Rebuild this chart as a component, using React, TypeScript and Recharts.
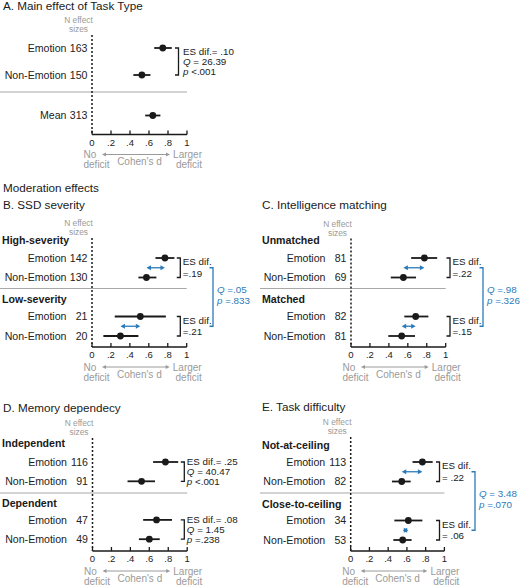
import React from "react";
import { ErrorBar, ReferenceLine, Scatter, ScatterChart, XAxis, YAxis } from "recharts";

/**
 * Forest plots of emotion vs non-emotion task deficits (Cohen's d).
 * Panel A = main effect, B–E = moderators. One ScatterChart per panel;
 * labels, brackets and the d-axis are drawn inside the chart via custom shapes.
 */

const FONT = '"Liberation Sans", Arial, Helvetica, sans-serif';
const INK = "#1a1a1a";
const TEXT = "#222222";
const GREY = "#9a9a9a";
const RULE = "#a8a8a8";
const BLUE = "#2b7bbb";
const PANEL_W = 260;

// ---- data ----
const AXIS_TICKS = [0, 0.2, 0.4, 0.6, 0.8, 1];
const TICK_LABELS = ["0", ".2", ".4", ".6", ".8", "1"];
const TASK_LABELS = ["Emotion", "Non-Emotion"];

// A. Main effect of Task Type
const A_LABELS = ["Emotion", "Non-Emotion", "Mean"];
const A_N = [163, 150, 313];
const A_EST = [0.745, 0.525, 0.64];
const A_LO = [0.655, 0.435, 0.56];
const A_HI = [0.84, 0.615, 0.72];
const A_STATS = ["ES dif.= .10", "Q = 26.39", "p <.001"];

// B. SSD severity (order: g1 Emotion, g1 Non-Emotion, g2 Emotion, g2 Non-Emotion)
const B_GROUPS = ["High-severity", "Low-severity"];
const B_N = [142, 130, 21, 20];
const B_EST = [0.77, 0.575, 0.51, 0.3];
const B_LO = [0.67, 0.49, 0.24, 0.12];
const B_HI = [0.87, 0.68, 0.78, 0.49];
const B_ES = [["ES dif.", "=.19"], ["ES dif.", "=.21"]];
const B_QP = ["Q =.05", "p =.833"];

// C. Intelligence matching
const C_GROUPS = ["Unmatched", "Matched"];
const C_N = [81, 69, 82, 81];
const C_EST = [0.775, 0.553, 0.683, 0.535];
const C_LO = [0.635, 0.42, 0.563, 0.394];
const C_HI = [0.91, 0.687, 0.817, 0.676];
const C_ES = [["ES dif.", "=.22"], ["ES dif.", "=.15"]];
const C_QP = ["Q =.98", "p =.326"];

// D. Memory dependecy
const D_GROUPS = ["Independent", "Dependent"];
const D_N = [116, 91, 47, 49];
const D_EST = [0.77, 0.518, 0.676, 0.6];
const D_LO = [0.64, 0.37, 0.535, 0.49];
const D_HI = [0.905, 0.66, 0.84, 0.71];
const D_ES = [
  ["ES dif.= .25", "Q = 40.47", "p <.001"],
  ["ES dif.= .08", "Q = 1.45", "p =.238"],
];

// E. Task difficulty
const E_GROUPS = ["Not-at-ceiling", "Close-to-ceiling"];
const E_N = [113, 82, 34, 53];
const E_EST = [0.765, 0.545, 0.615, 0.555];
const E_LO = [0.66, 0.44, 0.466, 0.455];
const E_HI = [0.875, 0.64, 0.765, 0.65];
const E_ES = [["ES dif.", "= .22"], ["ES dif.", "= .06"]];
const E_QP = ["Q = 3.48", "p =.070"];

// ---- layout (page px) ----
type Geo = {
  left: number;
  top: number;
  height: number;
  x0: number; // px of d = 0 inside panel
  unit: number; // px per 1 d
  origin: number; // page y of row index 0
  gap: number; // px per row index
  dashTop: number;
  axisY: number;
  sepY: number;
  headerY: number[];
  esX: number; // px right of d = 0
  blueX: number;
};

const GEO_A: Geo = { left: 0, top: 14, height: 160, x0: 92, unit: 95, origin: 48, gap: 27, dashTop: 35, axisY: 134.5, sepY: 92, headerY: [], esX: 86.5, blueX: 0 };
const GEO_B: Geo = { left: 0, top: 212, height: 175, x0: 92, unit: 94.7, origin: 238.5, gap: 19.5, dashTop: 238, axisY: 347, sepY: 288.5, headerY: [240.5, 299], esX: 88.3, blueX: 121 };
const GEO_C: Geo = { left: 260, top: 212, height: 175, x0: 91, unit: 94.7, origin: 238.5, gap: 19.5, dashTop: 238.5, axisY: 347, sepY: 288.5, headerY: [240.5, 299], esX: 99, blueX: 132 };
const GEO_D: Geo = { left: 0, top: 412, height: 175, x0: 92.5, unit: 94.7, origin: 442.7, gap: 19.3, dashTop: 438, axisY: 551, sepY: 493, headerY: [443.3, 503], esX: 91.8, blueX: 0 };
const GEO_E: Geo = { left: 260, top: 412, height: 175, x0: 90.7, unit: 93.7, origin: 442.5, gap: 19.5, dashTop: 437, axisY: 551, sepY: 493, headerY: [445, 504], esX: 88.8, blueX: 124.3 };

type RowItem = { label: string; n: number; est: number; lo: number; hi: number; y: number };
type Bracket = { y1: number; y2: number; lines: string[] };
type PanelSpec = {
  geo: Geo;
  rows: RowItem[];
  headers: { text: string; y: number }[];
  brackets: Bracket[];
  arrows: { y: number; from: number; to: number }[];
  blue: string[] | null;
};

function mainSpec(): PanelSpec {
  const rowIdx = [0, 1, 2.5];
  return {
    geo: GEO_A,
    rows: A_LABELS.map((label, i) => ({ label, n: A_N[i], est: A_EST[i], lo: A_LO[i], hi: A_HI[i], y: rowIdx[i] })),
    headers: [],
    brackets: [{ y1: 0, y2: 1, lines: A_STATS }],
    arrows: [],
    blue: null,
  };
}

function moderationSpec(
  geo: Geo,
  groups: string[],
  ns: number[],
  est: number[],
  lo: number[],
  hi: number[],
  es: string[][],
  qp: string[] | null
): PanelSpec {
  const rows = ns.map((n, i) => ({
    label: TASK_LABELS[i % 2],
    n,
    est: est[i],
    lo: lo[i],
    hi: hi[i],
    y: Math.floor(i / 2) * 3 + 1 + (i % 2),
  }));
  return {
    geo,
    rows,
    headers: groups.map((text, g) => ({ text, y: (geo.headerY[g] - geo.origin) / geo.gap })),
    brackets: groups.map((_, g) => ({ y1: g * 3 + 1, y2: g * 3 + 2, lines: es[g] })),
    arrows: qp
      ? groups.map((_, g) => ({ y: g * 3 + 1.5, from: est[g * 2 + 1], to: est[g * 2] }))
      : [],
    blue: qp,
  };
}

const SPECS: PanelSpec[] = [
  mainSpec(),
  moderationSpec(GEO_B, B_GROUPS, B_N, B_EST, B_LO, B_HI, B_ES, B_QP),
  moderationSpec(GEO_C, C_GROUPS, C_N, C_EST, C_LO, C_HI, C_ES, C_QP),
  moderationSpec(GEO_D, D_GROUPS, D_N, D_EST, D_LO, D_HI, D_ES, null),
  moderationSpec(GEO_E, E_GROUPS, E_N, E_EST, E_LO, E_HI, E_ES, E_QP),
];

// ---- shapes ----
function statLine(s: string) {
  const first = s.charAt(0);
  if ((first === "Q" || first === "p") && s.charAt(1) === " ") {
    return (
      <>
        <tspan fontStyle="italic">{first}</tspan>
        {s.slice(1)}
      </>
    );
  }
  return s;
}

const rowLabelShape = (p: any) => {
  const { cx, cy, payload } = p;
  return (
    <g>
      <text x={cx - 25.5} y={cy} dy="0.35em" textAnchor="end" fontSize={10.6} fill={TEXT}>
        {payload.label}
      </text>
      <text x={cx - 4.5} y={cy} dy="0.35em" textAnchor="end" fontSize={10.6} fill={TEXT}>
        {payload.n}
      </text>
    </g>
  );
};

const headerShape = (p: any) => {
  const { cx, cy, payload } = p;
  return (
    <text x={cx + 2} y={cy} dy="0.35em" fontSize={10.6} fontWeight="bold" fill={INK}>
      {payload.text}
    </text>
  );
};

const dotShape = (p: any) => <circle cx={p.cx} cy={p.cy} r={3.4} fill={INK} />;

const statShape = (p: any) => {
  const { cx, cy, payload } = p;
  const n = payload.lines.length;
  return (
    <text fontSize={9.8} fill={payload.color}>
      {payload.lines.map((s: string, i: number) => (
        <tspan key={i} x={cx + payload.dx} y={cy + payload.shift + (i - (n - 1) / 2) * payload.lh} dy="0.35em">
          {statLine(s)}
        </tspan>
      ))}
    </text>
  );
};

const bracketShape = (color: string) => (p: any) => {
  const { x1, y1, y2 } = p;
  return (
    <path
      d={`M ${x1 - 3.5} ${y1} H ${x1} V ${y2} H ${x1 - 3.5}`}
      fill="none"
      stroke={color}
      strokeWidth={1.3}
    />
  );
};

const arrowShape = (p: any) => {
  const { x1, x2, y1 } = p;
  const h = 4.5;
  const w = 2.4;
  return (
    <g>
      <line x1={x1 + 2} x2={x2 - 2} y1={y1} y2={y1} stroke={BLUE} strokeWidth={1.3} />
      <polygon points={`${x1},${y1} ${x1 + h},${y1 - w} ${x1 + h},${y1 + w}`} fill={BLUE} />
      <polygon points={`${x2},${y1} ${x2 - h},${y1 - w} ${x2 - h},${y1 + w}`} fill={BLUE} />
    </g>
  );
};

const zeroShape = (p: any) => {
  const { x1, y1, y2 } = p;
  return (
    <g>
      <line x1={x1} x2={x1} y1={y1} y2={y2} stroke={INK} strokeWidth={1.5} strokeDasharray="2 2" />
      <text x={x1 - 13.5} y={y1 - 14.5} dy="0.35em" textAnchor="middle" fontSize={8.4} fill={GREY}>
        N effect
      </text>
      <text x={x1 - 13.5} y={y1 - 5.5} dy="0.35em" textAnchor="middle" fontSize={8.4} fill={GREY}>
        sizes
      </text>
    </g>
  );
};

const axisShape = (p: any) => {
  const { x1, x2, y1 } = p;
  const w = x2 - x1;
  const ly = y1 + 20;
  const ax1 = x1 + 10;
  const ax2 = x2 - 17;
  return (
    <g>
      <line x1={x1} x2={x2} y1={y1} y2={y1} stroke={INK} strokeWidth={1.7} />
      {AXIS_TICKS.map((t, i) => {
        const tx = x1 + w * t;
        return (
          <g key={i}>
            <line x1={tx} x2={tx} y1={y1} y2={y1 - 4} stroke={INK} strokeWidth={1.3} />
            <text x={tx} y={y1 + 8} dy="0.35em" textAnchor="middle" fontSize={9.5} fill={TEXT}>
              {TICK_LABELS[i]}
            </text>
          </g>
        );
      })}
      <text x={x1 - 8.5} y={ly} dy="0.35em" fontSize={10} fill={GREY}>No</text>
      <text x={x1 - 8.5} y={y1 + 30} dy="0.35em" fontSize={10} fill={GREY}>deficit</text>
      <text x={x2 + 15} y={ly} dy="0.35em" textAnchor="end" fontSize={10} fill={GREY}>Larger</text>
      <text x={x2 + 15} y={y1 + 30} dy="0.35em" textAnchor="end" fontSize={10} fill={GREY}>deficit</text>
      <text x={(x1 + x2) / 2} y={y1 + 27} dy="0.35em" textAnchor="middle" fontSize={10} fill={GREY}>
        Cohen's d
      </text>
      <line x1={ax1 + 3} x2={ax2 - 3} y1={ly} y2={ly} stroke={GREY} strokeWidth={1} />
      <polygon points={`${ax1},${ly} ${ax1 + 4},${ly - 2} ${ax1 + 4},${ly + 2}`} fill={GREY} />
      <polygon points={`${ax2},${ly} ${ax2 - 4},${ly - 2} ${ax2 - 4},${ly + 2}`} fill={GREY} />
    </g>
  );
};

function ForestPanel({ spec }: { spec: PanelSpec }) {
  const g = spec.geo;
  const xMin = -g.x0 / g.unit;
  const xMax = (PANEL_W - g.x0) / g.unit;
  const toIdx = (py: number) => (py - g.origin) / g.gap;
  const yMin = toIdx(g.top);
  const yMax = toIdx(g.top + g.height);
  const axisIdx = toIdx(g.axisY);
  const esX = g.esX / g.unit;
  const blueX = g.blueX / g.unit;
  const threeLine = spec.brackets.some((b) => b.lines.length === 3);

  const labelData = spec.rows.map((r) => ({ x: 0, y: r.y, label: r.label, n: r.n }));
  const headerData = spec.headers.map((h) => ({ x: xMin, y: h.y, text: h.text }));
  const dotData = spec.rows.map((r) => ({ x: r.est, y: r.y, ci: [r.est - r.lo, r.hi - r.est] }));
  const statData = spec.brackets.map((b) => ({
    x: esX,
    y: (b.y1 + b.y2) / 2,
    lines: b.lines,
    color: TEXT,
    dx: spec.geo === GEO_A ? 4.5 : 2.5,
    lh: threeLine ? 10 : 11.5,
    shift: 0,
  }));
  const blueTop = spec.arrows.length ? spec.arrows[0].y : 0;
  const blueBottom = spec.arrows.length ? spec.arrows[spec.arrows.length - 1].y : 0;
  if (spec.blue) {
    statData.push({
      x: blueX,
      y: (blueTop + blueBottom) / 2,
      lines: spec.blue,
      color: BLUE,
      dx: 4,
      lh: 11,
      shift: -2,
    });
  }

  return (
    <div style={{ position: "absolute", left: g.left, top: g.top }}>
      <ScatterChart width={PANEL_W} height={g.height} margin={{ top: 0, right: 0, bottom: 0, left: 0 }}>
        <XAxis type="number" dataKey="x" domain={[xMin, xMax]} allowDataOverflow hide />
        <YAxis type="number" dataKey="y" domain={[yMin, yMax]} allowDataOverflow reversed hide />
        <ReferenceLine
          segment={[{ x: xMin, y: toIdx(g.sepY) }, { x: 1, y: toIdx(g.sepY) }]}
          stroke={RULE}
          strokeWidth={1.2}
          ifOverflow="visible"
        />
        <ReferenceLine
          segment={[{ x: 0, y: toIdx(g.dashTop) }, { x: 0, y: axisIdx }]}
          ifOverflow="visible"
          shape={zeroShape}
        />
        <ReferenceLine
          segment={[{ x: 0, y: axisIdx }, { x: 1, y: axisIdx }]}
          ifOverflow="visible"
          shape={axisShape}
        />
        {spec.brackets.map((b, i) => (
          <ReferenceLine
            key={`es-${i}`}
            segment={[{ x: esX, y: b.y1 }, { x: esX, y: b.y2 }]}
            ifOverflow="visible"
            shape={bracketShape(INK)}
          />
        ))}
        {spec.arrows.map((a, i) => (
          <ReferenceLine
            key={`ar-${i}`}
            segment={[{ x: a.from, y: a.y }, { x: a.to, y: a.y }]}
            ifOverflow="visible"
            shape={arrowShape}
          />
        ))}
        {spec.blue && (
          <ReferenceLine
            segment={[{ x: blueX, y: blueTop }, { x: blueX, y: blueBottom }]}
            ifOverflow="visible"
            shape={bracketShape(BLUE)}
          />
        )}
        <Scatter data={labelData} shape={rowLabelShape} isAnimationActive={false} />
        <Scatter data={headerData} shape={headerShape} isAnimationActive={false} />
        <Scatter data={dotData} shape={dotShape} isAnimationActive={false}>
          <ErrorBar dataKey="ci" direction="x" width={0} stroke={INK} strokeWidth={1.8} isAnimationActive={false} />
        </Scatter>
        <Scatter data={statData} shape={statShape} isAnimationActive={false} />
      </ScatterChart>
    </div>
  );
}

const TITLES = [
  { text: "A. Main effect of Task Type", left: 3, top: -1 },
  { text: "Moderation effects", left: 3, top: 181.3 },
  { text: "B. SSD severity", left: 3, top: 198 },
  { text: "C. Intelligence matching", left: 262, top: 198 },
  { text: "D. Memory dependecy", left: 3, top: 400.7 },
  { text: "E. Task difficulty", left: 262, top: 399.7 },
];

export default function App() {
  return (
    <div
      style={{
        position: "absolute",
        left: 0,
        top: 0,
        width: 520,
        height: 587,
        overflow: "hidden",
        background: "#ffffff",
        fontFamily: FONT,
        color: INK,
      }}
    >
      {TITLES.map((t) => (
        <div
          key={t.text}
          style={{
            position: "absolute",
            left: t.left,
            top: t.top,
            fontSize: 11.7,
            lineHeight: "14px",
            whiteSpace: "nowrap",
          }}
        >
          {t.text}
        </div>
      ))}
      {SPECS.map((s, i) => (
        <ForestPanel key={i} spec={s} />
      ))}
    </div>
  );
}
